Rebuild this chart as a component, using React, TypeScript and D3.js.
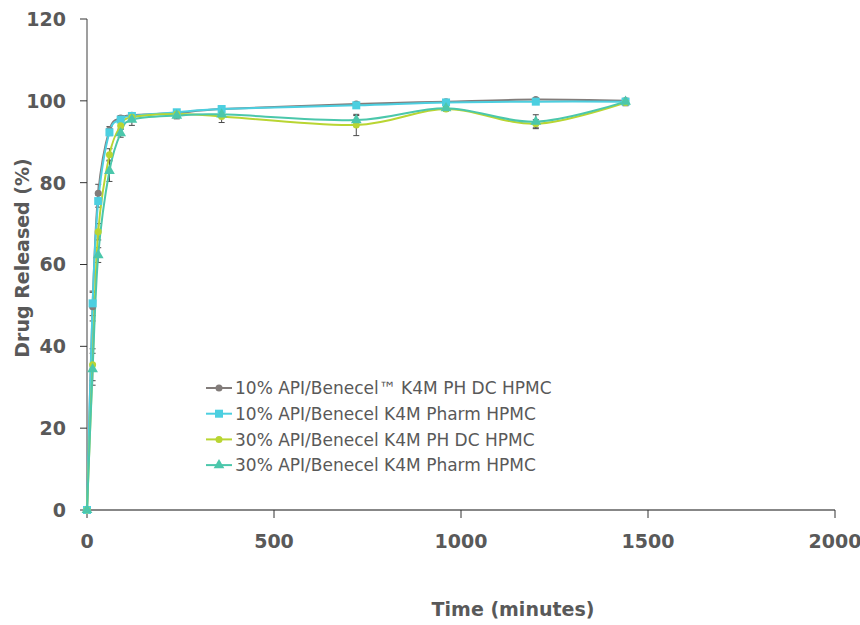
import React from 'react';
import * as d3 from 'd3';

// sampling times (minutes)
const times = [0, 15, 30, 60, 90, 120, 240, 360, 720, 960, 1200, 1440];

const grayVals = [0, 49.7, 77.4, 92.9, 95.8, 96.5, 97.0, 98.0, 99.2, 99.8, 100.3, 100.0];
const blueVals = [0, 50.5, 75.5, 92.3, 95.4, 96.3, 97.2, 98.0, 98.9, 99.6, 99.8, 99.8];
const yellowVals = [0, 35.5, 68.0, 86.8, 93.9, 96.0, 96.8, 96.2, 94.1, 98.0, 94.4, 99.6];
const tealVals = [0, 34.4, 62.3, 82.9, 92.1, 95.4, 96.4, 96.7, 95.3, 98.2, 94.9, 99.8];

// standard deviations
const grayErr = [0, 3.5, 2.2, 0.8, 0.6, 0.5, 0.5, 0.4, 0.4, 0.3, 0.4, 0.6];
const blueErr = [0, 3.0, 1.5, 0.8, 0.6, 0.5, 0.5, 0.4, 0.4, 0.3, 0.4, 0.5];
const yellowErr = [0, 3.9, 2.0, 1.5, 0.8, 0.6, 0.7, 1.5, 2.6, 0.5, 1.0, 0.8];
const tealErr = [0, 3.9, 1.8, 2.6, 1.0, 1.4, 0.8, 0.8, 1.1, 0.4, 1.7, 0.8];

const seriesNames = [
  '10% API/Benecel\u2122 K4M PH DC HPMC',
  '10% API/Benecel K4M Pharm HPMC',
  '30% API/Benecel K4M PH DC HPMC',
  '30% API/Benecel K4M Pharm HPMC',
];

const xTicks = [0, 500, 1000, 1500, 2000];
const yTicks = [0, 20, 40, 60, 80, 100, 120];

const series = [
  { name: seriesNames[0], vals: grayVals, err: grayErr, color: '#827c7a', marker: 'circle' },
  { name: seriesNames[1], vals: blueVals, err: blueErr, color: '#4ccfe0', marker: 'square' },
  { name: seriesNames[2], vals: yellowVals, err: yellowErr, color: '#b9d532', marker: 'circle' },
  { name: seriesNames[3], vals: tealVals, err: tealErr, color: '#4bc7ab', marker: 'triangle' },
];

const font = '"DejaVu Sans", sans-serif';
const textColor = '#595959';

function Marker({ type, x, y, color }: { type: string; x: number; y: number; color: string }) {
  if (type === 'square') {
    return <rect x={x - 4} y={y - 4} width={8} height={8} fill={color} />;
  }
  if (type === 'triangle') {
    const p = d3.symbol().type(d3.symbolTriangle).size(50)();
    return <path d={p || ''} transform={`translate(${x},${y})`} fill={color} />;
  }
  return <circle cx={x} cy={y} r={3.5} fill={color} />;
}

export default function App() {
  const width = 860;
  const height = 625;
  const x = d3.scaleLinear().domain([0, 2000]).range([87, 835]);
  const y = d3.scaleLinear().domain([0, 120]).range([510, 19]);

  const line = d3
    .line<number>()
    .x((_, i) => x(times[i]))
    .y((d) => y(d))
    .curve(d3.curveCatmullRom.alpha(0));

  return (
    <svg width={width} height={height} style={{ position: 'fixed', top: 0, left: 0 }}>
      <rect width={width} height={height} fill="#fff" />

      {/* y axis */}
      <line x1={x(0)} x2={x(0)} y1={y(120)} y2={y(0)} stroke="#7f7f7f" strokeWidth={1.5} />
      {yTicks.map((t) => (
        <g key={t}>
          <line x1={x(0) - 7} x2={x(0)} y1={y(t)} y2={y(t)} stroke="#333" strokeWidth={1} />
          <text
            x={66}
            y={y(t)}
            dy="0.36em"
            textAnchor="end"
            fontFamily={font}
            fontWeight="bold"
            fontSize={19}
            fill={textColor}
          >
            {t}
          </text>
        </g>
      ))}

      {/* x axis */}
      <line x1={x(0)} x2={x(2000)} y1={y(0)} y2={y(0)} stroke="#111" strokeWidth={1.2} />
      {xTicks.map((t) => (
        <g key={t}>
          <line x1={x(t)} x2={x(t)} y1={y(0)} y2={y(0) + 8} stroke="#333" strokeWidth={1} />
          <text
            x={x(t)}
            y={548}
            textAnchor="middle"
            fontFamily={font}
            fontWeight="bold"
            fontSize={19}
            fill={textColor}
          >
            {t}
          </text>
        </g>
      ))}

      {/* error bars */}
      {series.map((s) =>
        s.vals.map((v, i) =>
          s.err[i] > 0 ? (
            <g key={s.name + i} stroke="#4a4a4a" strokeWidth={1}>
              <line x1={x(times[i])} x2={x(times[i])} y1={y(v + s.err[i])} y2={y(v - s.err[i])} />
              <line x1={x(times[i]) - 3} x2={x(times[i]) + 3} y1={y(v + s.err[i])} y2={y(v + s.err[i])} />
              <line x1={x(times[i]) - 3} x2={x(times[i]) + 3} y1={y(v - s.err[i])} y2={y(v - s.err[i])} />
            </g>
          ) : null
        )
      )}

      {/* lines */}
      {series.map((s) => (
        <path key={s.name} d={line(s.vals) || ''} fill="none" stroke={s.color} strokeWidth={2} />
      ))}
      {series.map((s) =>
        s.vals.map((v, i) => (
          <Marker key={s.name + 'm' + i} type={s.marker} x={x(times[i])} y={y(v)} color={s.color} />
        ))
      )}

      {/* axis titles */}
      <text
        transform={`translate(29,258) rotate(-90)`}
        textAnchor="middle"
        fontFamily={font}
        fontWeight="bold"
        fontSize={19}
        fill={textColor}
      >
        Drug Released (%)
      </text>
      <text x={513} y={616} textAnchor="middle" fontFamily={font} fontWeight="bold" fontSize={19} fill={textColor}>
        Time (minutes)
      </text>

      {/* legend */}
      {series.map((s, i) => {
        const ly = 388 + i * 25.7;
        return (
          <g key={s.name + 'leg'}>
            <line x1={206} x2={232} y1={ly} y2={ly} stroke={s.color} strokeWidth={2} />
            <Marker type={s.marker} x={219} y={ly} color={s.color} />
            <text x={235} y={ly} dy="0.36em" fontFamily={font} fontSize={17} fill={textColor}>
              {s.name}
            </text>
          </g>
        );
      })}
    </svg>
  );
}
